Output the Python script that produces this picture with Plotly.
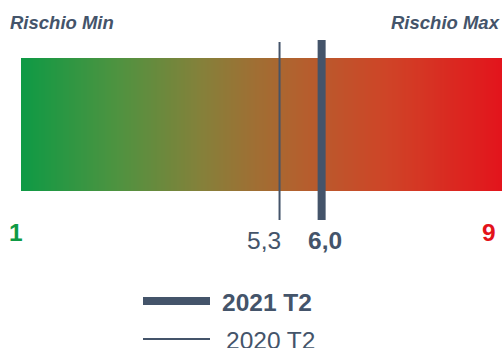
import numpy as np
import plotly.graph_objects as go

# Risk scale and the two readings placed on it
scale_min, scale_max = 1, 9
scale_labels = ["1", "9"]
periods = ["2021 T2", "2020 T2"]
values = [6.0, 5.3]
value_labels = ["6,0", "5,3"]

W, H = 504, 348
INK = "#44546a"
GREEN = "#0f9a45"
RED = "#e3131b"
FONT = "Liberation Sans, Arial, sans-serif"
BIG = 24.5

# x axis in data units: 1 sits at px 21, 9 at px 502
px_per_unit = (502 - 21) / (scale_max - scale_min)
x_lo = scale_min - 21 / px_per_unit
x_hi = scale_max + (W - 502) / px_per_unit

fig = go.Figure()

# Gradient band from minimum to maximum risk
n = 240
edges = np.linspace(scale_min, scale_max, n + 1)
centers = (edges[:-1] + edges[1:]) / 2
fig.add_trace(go.Heatmap(
    x=edges, y=[58, 191], z=[centers],
    zmin=scale_min, zmax=scale_max,
    colorscale=[
        [0.0, "#0e9a45"],
        [0.2, "#4e9340"],
        [0.38, "#86803a"],
        [0.56, "#b0632f"],
        [0.76, "#cf4427"],
        [1.0, "#e3141c"],
    ],
    showscale=False, hoverinfo="skip",
))

# Marker lines for each period
widths = [8, 2]
tops = [40, 42]
for v, w, t, name in zip(values, widths, tops, periods):
    fig.add_trace(go.Scatter(
        x=[v, v], y=[t, 220], mode="lines",
        line=dict(color=INK, width=w), name=name,
        showlegend=False, hoverinfo="skip",
    ))

ann = []
# Scale end labels
ann.append(dict(x=16 / W, y=232, text=f"<b>{scale_labels[0]}</b>", xref="paper", yref="y",
                showarrow=False, xanchor="center", font=dict(size=BIG, color=GREEN, family=FONT)))
ann.append(dict(x=489 / W, y=232, text=f"<b>{scale_labels[1]}</b>", xref="paper", yref="y",
                showarrow=False, xanchor="center", font=dict(size=BIG, color=RED, family=FONT)))
# Value labels under the markers
ann.append(dict(x=values[1], y=240, text=value_labels[1], xref="x", yref="y", showarrow=False,
                xanchor="center", xshift=-16, font=dict(size=BIG, color=INK, family=FONT)))
ann.append(dict(x=values[0], y=240, text=f"<b>{value_labels[0]}</b>", xref="x", yref="y", showarrow=False,
                xanchor="center", xshift=3, font=dict(size=BIG, color=INK, family=FONT)))
# Ends of the scale
ann.append(dict(x=8 / W, y=22, text="<b><i>Rischio Min</i></b>", xref="paper", yref="y", showarrow=False,
                xanchor="left", font=dict(size=18.5, color=INK, family=FONT)))
ann.append(dict(x=502 / W, y=22, text="<b><i>Rischio Max</i></b>", xref="paper", yref="y", showarrow=False,
                xanchor="right", font=dict(size=18.5, color=INK, family=FONT)))
# Legend
legend_y = [302, 340]
legend_text = [f"<b>{periods[0]}</b>", periods[1]]
legend_x = [220, 224]
shapes = []
for ly, lw, lt, lx in zip(legend_y, widths, legend_text, legend_x):
    shapes.append(dict(type="line", xref="paper", yref="y", x0=143 / W, x1=210 / W,
                       y0=ly - 1, y1=ly - 1, line=dict(color=INK, width=lw)))
    ann.append(dict(x=lx / W, y=ly, text=lt, xref="paper", yref="y", showarrow=False,
                    xanchor="left", font=dict(size=BIG, color=INK, family=FONT)))

fig.update_layout(
    width=W, height=H,
    margin=dict(l=0, r=0, t=0, b=0),
    paper_bgcolor="white", plot_bgcolor="white",
    xaxis=dict(range=[x_lo, x_hi], visible=False, fixedrange=True),
    yaxis=dict(range=[H, 0], visible=False, fixedrange=True),
    annotations=ann, shapes=shapes,
    showlegend=False,
)

fig.write_html("out.html")
